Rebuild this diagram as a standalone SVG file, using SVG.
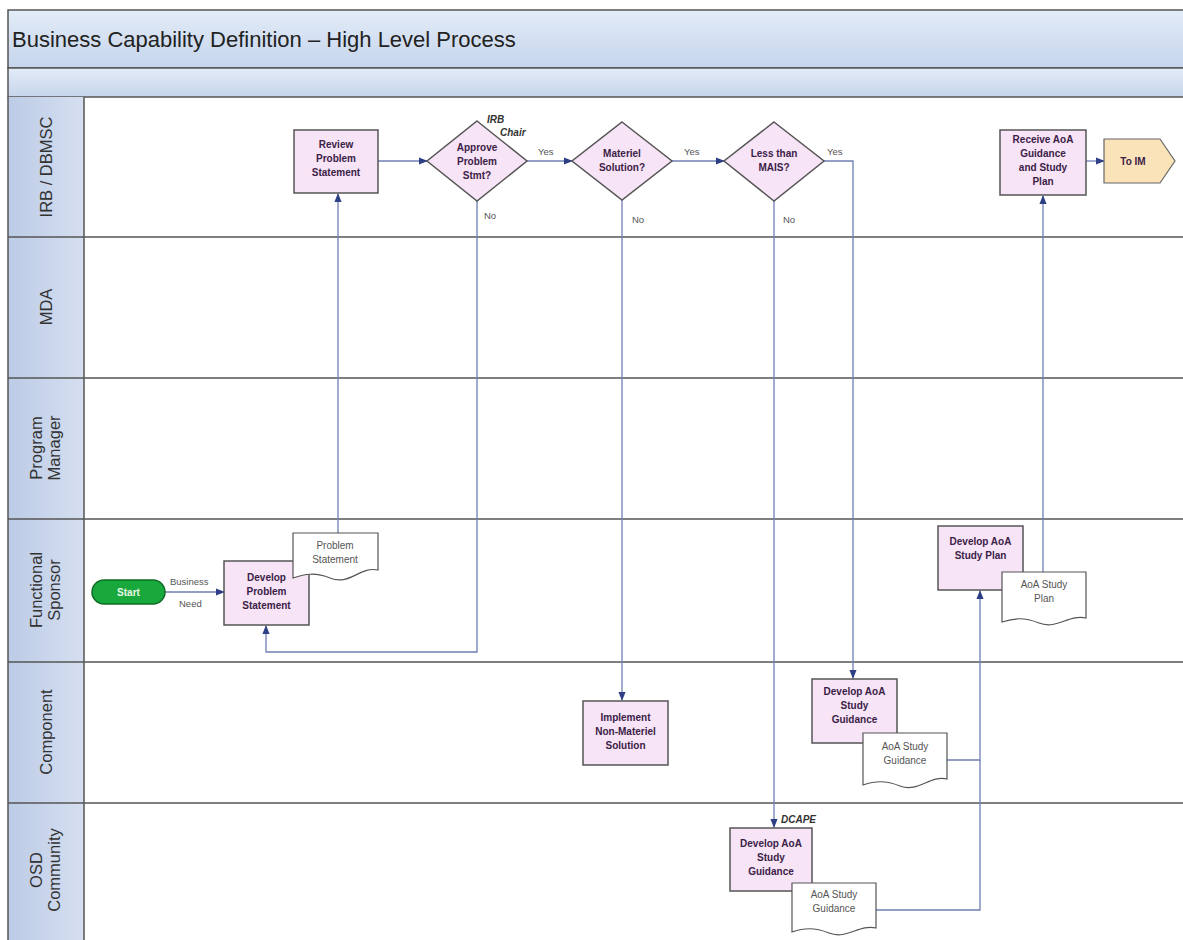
<svg xmlns="http://www.w3.org/2000/svg" width="1183" height="940" viewBox="0 0 1183 940">
  <defs>
    <linearGradient id="band" x1="0" y1="0" x2="0" y2="1">
      <stop offset="0" stop-color="#e3ecf8"/>
      <stop offset="1" stop-color="#c6d5ec"/>
    </linearGradient>
    <linearGradient id="lanehead" x1="0" y1="0" x2="1" y2="0">
      <stop offset="0" stop-color="#bccbe6"/>
      <stop offset="1" stop-color="#d5dff0"/>
    </linearGradient>
    <marker id="arr" viewBox="0 0 10 10" refX="9" refY="5" markerWidth="7" markerHeight="7" orient="auto-start-reverse">
      <path d="M0,1 L10,5 L0,9 z" fill="#2f3f86"/>
    </marker>
  </defs>
  <style>
    .lane { stroke: #555; stroke-width: 1.5; fill: none; }
    .lh { font-family: "Liberation Sans", Arial, sans-serif; font-size: 16.5px; fill: #333; text-anchor: middle; }
    .box { fill: #f7e4f6; stroke: #555; stroke-width: 1.5; }
    .doc { fill: #fff; stroke: #555; stroke-width: 1.2; }
    .t { font-family: "Liberation Sans", Arial, sans-serif; font-size: 10px; font-weight: bold; fill: #3b2147; text-anchor: middle; }
    .dt { font-family: "Liberation Sans", Arial, sans-serif; font-size: 10px; fill: #555; text-anchor: middle; }
    .lbl { font-family: "Liberation Sans", Arial, sans-serif; font-size: 9.5px; fill: #555; }
    .role { font-family: "Liberation Sans", Arial, sans-serif; font-size: 10px; font-weight: bold; font-style: italic; fill: #333; }
    .c { stroke: #6f7fb3; stroke-width: 1.3; fill: none; }
  </style>

  <rect width="1183" height="940" fill="#ffffff"/>

  <!-- title bands -->
  <rect x="8" y="10" width="1180" height="58" fill="url(#band)" stroke="#555" stroke-width="1.5"/>
  <rect x="8" y="68" width="1180" height="29" fill="url(#band)" stroke="#555" stroke-width="1.5"/>
  <text x="12" y="47" font-family="Liberation Sans, Arial, sans-serif" font-size="22" fill="#222">Business Capability Definition – High Level Process</text>

  <!-- swimlanes -->
  <g id="lanes">
    <rect x="8" y="97" width="76" height="850" fill="url(#lanehead)"/>
    <line class="lane" x1="8" y1="97" x2="8" y2="940"/>
    <line class="lane" x1="84" y1="97" x2="84" y2="940"/>
    <line class="lane" x1="8" y1="237" x2="1183" y2="237"/>
    <line class="lane" x1="8" y1="378" x2="1183" y2="378"/>
    <line class="lane" x1="8" y1="519" x2="1183" y2="519"/>
    <line class="lane" x1="8" y1="662" x2="1183" y2="662"/>
    <line class="lane" x1="8" y1="803" x2="1183" y2="803"/>
    <text class="lh" transform="translate(52,167) rotate(-90)">IRB / DBMSC</text>
    <text class="lh" transform="translate(52,307) rotate(-90)">MDA</text>
    <text class="lh" transform="translate(42,448) rotate(-90)">Program</text>
    <text class="lh" transform="translate(60,448) rotate(-90)">Manager</text>
    <text class="lh" transform="translate(42,590) rotate(-90)">Functional</text>
    <text class="lh" transform="translate(60,590) rotate(-90)">Sponsor</text>
    <text class="lh" transform="translate(52,732) rotate(-90)">Component</text>
    <text class="lh" transform="translate(42,870) rotate(-90)">OSD</text>
    <text class="lh" transform="translate(60,870) rotate(-90)">Community</text>
  </g>

  <!-- connectors -->
  <g id="connectors">
    <line class="c" x1="165" y1="592" x2="224" y2="592" marker-end="url(#arr)"/>
    <line class="c" x1="338" y1="533" x2="338" y2="194" marker-end="url(#arr)"/>
    <line class="c" x1="378" y1="161" x2="427" y2="161" marker-end="url(#arr)"/>
    <line class="c" x1="527" y1="161" x2="572" y2="161" marker-end="url(#arr)"/>
    <line class="c" x1="672" y1="161" x2="724" y2="161" marker-end="url(#arr)"/>
    <polyline class="c" points="477,201 477,652 266,652 266,626" marker-end="url(#arr)"/>
    <line class="c" x1="622" y1="200" x2="622" y2="700" marker-end="url(#arr)"/>
    <line class="c" x1="774" y1="201" x2="774" y2="827" marker-end="url(#arr)"/>
    <polyline class="c" points="824,161 853,161 853,678" marker-end="url(#arr)"/>
    <polyline class="c" points="947,760 980,760 980,591" marker-end="url(#arr)"/>
    <polyline class="c" points="876,910 980,910 980,760"/>
    <line class="c" x1="1043" y1="572" x2="1043" y2="196" marker-end="url(#arr)"/>
    <line class="c" x1="1086" y1="161" x2="1104" y2="161" marker-end="url(#arr)"/>
    <text class="lbl" x="170" y="585">Business</text>
    <text class="lbl" x="179" y="607">Need</text>
    <text class="lbl" x="538" y="155">Yes</text>
    <text class="lbl" x="684" y="155">Yes</text>
    <text class="lbl" x="827" y="155">Yes</text>
    <text class="lbl" x="484" y="219">No</text>
    <text class="lbl" x="632" y="223">No</text>
    <text class="lbl" x="783" y="223">No</text>
  </g>

  <g id="start">
    <rect x="92" y="580" width="73" height="24" rx="12" fill="#19a83c" stroke="#0f6b26" stroke-width="1.5"/>
    <text x="128.5" y="596" font-family="Liberation Sans, Arial, sans-serif" font-size="10" font-weight="bold" fill="#e8f8e8" text-anchor="middle">Start</text>
  </g>

  <g id="develop-problem-statement">
    <rect class="box" x="224" y="561" width="85" height="64"/>
    <text class="t" x="266.5" y="581">Develop</text>
    <text class="t" x="266.5" y="595">Problem</text>
    <text class="t" x="266.5" y="609">Statement</text>
  </g>

  <g id="problem-statement-doc">
    <path class="doc" d="M293,533 H378 V570 C360,566 350,586 330,578 C315,572 305,574 293,578 Z"/>
    <text class="dt" x="335" y="549">Problem</text>
    <text class="dt" x="335" y="563">Statement</text>
  </g>

  <g id="review-problem-statement">
    <rect class="box" x="294" y="130" width="84" height="63"/>
    <text class="t" x="336" y="148">Review</text>
    <text class="t" x="336" y="162">Problem</text>
    <text class="t" x="336" y="176">Statement</text>
  </g>

  <g id="approve-problem-stmt">
    <polygon class="box" points="477,121 527,161 477,201 427,161"/>
    <text class="t" x="477" y="151">Approve</text>
    <text class="t" x="477" y="165">Problem</text>
    <text class="t" x="477" y="179">Stmt?</text>
    <text class="role" x="487" y="123">IRB</text>
    <text class="role" x="500" y="136">Chair</text>
  </g>

  <g id="materiel-solution">
    <polygon class="box" points="622,122 672,161 622,200 572,161"/>
    <text class="t" x="622" y="157">Materiel</text>
    <text class="t" x="622" y="171">Solution?</text>
  </g>

  <g id="less-than-mais">
    <polygon class="box" points="774,122 824,161 774,201 724,161"/>
    <text class="t" x="774" y="157">Less than</text>
    <text class="t" x="774" y="171">MAIS?</text>
  </g>

  <g id="receive-aoa-guidance">
    <rect class="box" x="1000" y="130" width="86" height="65"/>
    <text class="t" x="1043" y="143">Receive AoA</text>
    <text class="t" x="1043" y="157">Guidance</text>
    <text class="t" x="1043" y="171">and Study</text>
    <text class="t" x="1043" y="185">Plan</text>
  </g>

  <g id="to-im">
    <polygon points="1104,139 1160,139 1175,161 1160,183 1104,183" fill="#fbe3b9" stroke="#666" stroke-width="1.2"/>
    <text class="t" x="1133" y="165" fill="#333">To IM</text>
  </g>

  <g id="implement-non-materiel">
    <rect class="box" x="583" y="701" width="85" height="64"/>
    <text class="t" x="625.5" y="721">Implement</text>
    <text class="t" x="625.5" y="735">Non-Materiel</text>
    <text class="t" x="625.5" y="749">Solution</text>
  </g>

  <g id="component-develop-guidance">
    <rect class="box" x="812" y="679" width="85" height="64"/>
    <text class="t" x="854.5" y="695">Develop AoA</text>
    <text class="t" x="854.5" y="709">Study</text>
    <text class="t" x="854.5" y="723">Guidance</text>
  </g>

  <g id="component-guidance-doc">
    <path class="doc" d="M863,733 H947 V779 C930,775 918,793 900,786 C885,780 875,781 863,785 Z"/>
    <text class="dt" x="905" y="750">AoA Study</text>
    <text class="dt" x="905" y="764">Guidance</text>
  </g>

  <g id="develop-study-plan">
    <rect class="box" x="938" y="526" width="85" height="64"/>
    <text class="t" x="980.5" y="545">Develop AoA</text>
    <text class="t" x="980.5" y="559">Study Plan</text>
  </g>

  <g id="study-plan-doc">
    <path class="doc" d="M1002,572 H1086 V618 C1069,614 1057,630 1039,623 C1024,617 1014,618 1002,622 Z"/>
    <text class="dt" x="1044" y="588">AoA Study</text>
    <text class="dt" x="1044" y="602">Plan</text>
  </g>

  <g id="osd-develop-guidance">
    <rect class="box" x="730" y="828" width="82" height="63"/>
    <text class="t" x="771" y="847">Develop AoA</text>
    <text class="t" x="771" y="861">Study</text>
    <text class="t" x="771" y="875">Guidance</text>
    <text class="role" x="781" y="823">DCAPE</text>
  </g>

  <g id="osd-guidance-doc">
    <path class="doc" d="M792,883 H876 V928 C859,924 847,940 829,933 C814,927 804,928 792,932 Z"/>
    <text class="dt" x="834" y="898">AoA Study</text>
    <text class="dt" x="834" y="912">Guidance</text>
  </g>
</svg>
